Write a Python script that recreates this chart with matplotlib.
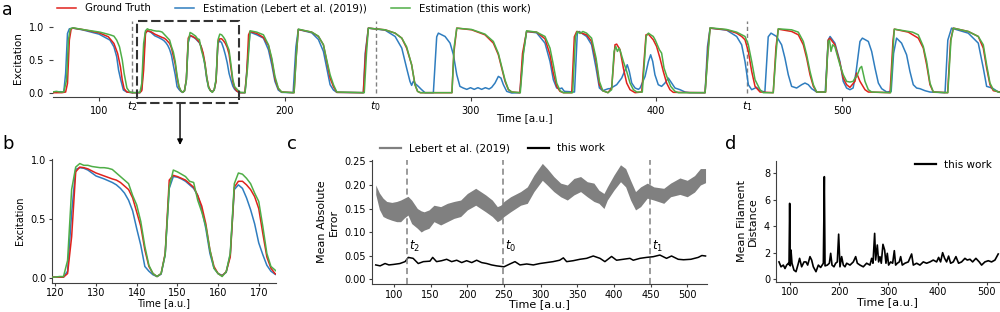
import numpy as np
import matplotlib
matplotlib.use('Agg')
import matplotlib.pyplot as plt
from matplotlib.patches import Rectangle
from matplotlib.lines import Line2D
import matplotlib.transforms as mtransforms

plt.rcParams['font.family'] = ['DejaVu Sans']
plt.rcParams['axes.spines.top'] = False
plt.rcParams['axes.spines.right'] = False
plt.rcParams['axes.edgecolor'] = '0.25'
plt.rcParams['xtick.color'] = '0.25'
plt.rcParams['ytick.color'] = '0.25'
plt.rcParams['xtick.labelcolor'] = 'black'
plt.rcParams['ytick.labelcolor'] = 'black'

# ---- panel a / b : excitation traces (b is the zoom of a) ----
t_gt = [75, 80, 82, 83, 84, 85, 86, 91, 100, 105, 108, 110, 111.5, 112.5, 113.5, 115, 118,
        120, 121, 122, 123, 124, 125, 126, 127, 128, 130, 132, 134, 135, 136, 137, 138, 139, 140,
        141, 142, 143, 144, 145, 146, 147, 148, 149, 150, 151, 152, 153, 154, 155, 156, 157, 158,
        159, 160, 161, 162, 163, 164, 165, 166, 167, 168, 169, 170, 171, 172, 173, 174, 175,
        176, 178.5, 179.5, 180.5, 181.3, 185, 188.5, 191.2, 193, 194.7, 196.5, 198.3,
        205, 206, 207.3, 214.5, 218.1, 220.8, 222.6, 224.4, 226.2, 228,
        242.3, 243.5, 245, 254, 259.4, 263, 265.6, 268.3, 270.1, 271.5, 273,
        290, 291, 292.6, 300.6, 307.8, 312.3, 315, 316.8, 318.6, 320.4, 322.2,
        326.6, 328, 330.2, 335.6, 340.1, 342.8, 344.6, 346.4, 348.2, 350,
        354.5, 355.9, 357.2, 362.5, 365.2, 367.6, 369.4, 371.2, 374,
        376, 377.8, 378.7, 380.5, 382.3, 384.1, 385.9, 388.6,
        392.2, 394.5, 395.8, 398.4, 400.2, 402, 403.8, 405.6, 407.4, 409.2,
        426.3, 428, 429, 437.9, 443.3, 446, 447.8, 449.6, 451.4, 453.2, 455.9,
        463, 464.5, 465.7, 472.9, 476.5, 479.2, 481, 482.8, 484.6, 486.4,
        491.2, 492.6, 493.5, 496.2, 498.9, 500.7, 502.5, 504.3, 507, 507.9, 509.7, 512.4, 514.2,
        525.9, 527.5, 528.2, 535.7, 541.1, 543.8, 545.6, 547.4, 549.2,
        556.9, 558.5, 560, 568, 573.4, 576.1, 577.9, 579.7, 581.5, 585]
y_gt = [0.01, 0.01, 0.02, 0.15, 0.8, 0.97, 0.98, 0.96, 0.91, 0.85, 0.75, 0.6, 0.4, 0.2, 0.07, 0.02, 0.01,
        0.01, 0.01, 0.01, 0.04, 0.35, 0.9, 0.94, 0.935, 0.925, 0.89, 0.865, 0.84, 0.83, 0.81, 0.78, 0.75, 0.68, 0.56,
        0.44, 0.24, 0.10, 0.04, 0.015, 0.04, 0.21, 0.83, 0.87, 0.86, 0.845, 0.83, 0.80, 0.77, 0.70, 0.61, 0.46, 0.24,
        0.10, 0.04, 0.02, 0.056, 0.18, 0.77, 0.82, 0.82, 0.79, 0.75, 0.69, 0.59, 0.38, 0.18, 0.085, 0.04, 0.02,
        0.01, 0.01, 0.3, 0.88, 0.93, 0.90, 0.84, 0.72, 0.50, 0.22, 0.07, 0.02,
        0.01, 0.5, 0.96, 0.92, 0.855, 0.73, 0.48, 0.23, 0.10, 0.015,
        0.01, 0.6, 0.98, 0.955, 0.905, 0.83, 0.68, 0.43, 0.13, 0.03, 0.01,
        0.01, 0.6, 0.98, 0.955, 0.88, 0.755, 0.58, 0.38, 0.18, 0.055, 0.02,
        0.01, 0.6, 0.93, 0.92, 0.82, 0.58, 0.30, 0.105, 0.03, 0.01,
        0.01, 0.85, 0.93, 0.88, 0.78, 0.48, 0.13, 0.04, 0.01,
        0.08, 0.73, 0.74, 0.655, 0.38, 0.155, 0.055, 0.01,
        0.02, 0.88, 0.89, 0.805, 0.705, 0.53, 0.33, 0.155, 0.055, 0.015,
        0.01, 0.7, 0.98, 0.955, 0.905, 0.855, 0.805, 0.63, 0.33, 0.105, 0.02,
        0.01, 0.7, 0.965, 0.93, 0.88, 0.73, 0.53, 0.28, 0.105, 0.02,
        0.02, 0.8, 0.83, 0.73, 0.455, 0.23, 0.13, 0.09, 0.18, 0.305, 0.18, 0.055, 0.02,
        0.01, 0.8, 0.965, 0.92, 0.83, 0.68, 0.43, 0.13, 0.02,
        0.01, 0.8, 0.98, 0.93, 0.855, 0.68, 0.38, 0.13, 0.04, 0.02]

t_lebert = [75, 77, 79, 81, 82, 83, 84, 86, 91, 100, 105.9, 108, 109.5, 110.5, 111.7, 113.1, 114.9, 118,
            120, 121, 122, 123, 124, 125, 126, 127, 128, 130, 132, 134, 135, 136, 137, 138, 139, 140,
            141, 142, 143, 144, 145, 146, 147, 148, 149, 150, 151, 152, 153, 154, 155, 156, 157, 158,
            159, 160, 161, 162, 163, 164, 165, 166, 167, 168, 169, 170, 171, 172, 173, 174, 175,
            176, 178.6, 180, 181.3, 184.9, 188.5, 191.2, 193, 194.7, 196.5, 198.3,
            204.5, 206, 207.3, 214.5, 218.1, 220.8, 222.6, 224.4, 226.2, 228,
            242.3, 243.3, 245, 254, 259.4, 263, 265.6, 267.4, 268.3, 269.2, 270.5, 271.9, 273.5, 275.5,
            280, 281.8, 282.7, 286.3, 289, 290.8, 292.6, 294.3, 296.1, 298, 300, 302, 304, 306, 308, 310,
            311.4, 313.2, 315, 316.4, 317.7, 319.5, 322.2,
            326.6, 328.4, 330.2, 335.6, 340.1, 342.8, 344.6, 346.4, 348.2, 349.2, 350.5,
            356, 357.5, 358.5, 362.5, 365.2, 367.6, 369.4, 371.2, 374.2,
            375.1, 378.7, 381.4, 383.7, 384.4, 385.5, 386.8, 388.6, 390.4,
            391.3, 394, 395.8, 397, 398.1, 399.3, 401.1, 402.9, 404.7, 406.5, 408.3, 410.1, 412.8, 415.5, 418,
            426.3, 427.6, 429, 437.9, 443.3, 446, 447.8, 449.6, 451.4, 452.5, 454, 455.9,
            458.5, 460.3, 461.8, 464.8, 467.5, 469.3, 471.1, 472.9, 475.6, 478.3, 480.1, 481.9, 483.7, 486.4,
            491, 492.6, 493.6, 496.2, 498.9, 500.7, 502.5, 504.3, 506,
            507.5, 509.7, 511, 514.2, 516, 517.8, 519.6, 521.4, 524.1,
            526.5, 527.8, 529.4, 532.1, 534.8, 536.6, 538.4, 540.2, 542, 544.7, 547.4,
            555.5, 557, 559, 568, 573.4, 576.1, 577.9, 579.7, 581.5, 584.2, 585]
y_lebert = [0.02, 0.015, 0.025, 0.02, 0.3, 0.9, 0.97, 0.98, 0.955, 0.89, 0.80, 0.7, 0.55, 0.35, 0.2, 0.05, 0.02, 0.01,
            0.01, 0.01, 0.01, 0.06, 0.55, 0.92, 0.935, 0.93, 0.915, 0.865, 0.84, 0.81, 0.79, 0.76, 0.72, 0.66, 0.57, 0.42,
            0.28, 0.10, 0.06, 0.03, 0.015, 0.035, 0.2, 0.76, 0.86, 0.855, 0.84, 0.82, 0.79, 0.76, 0.70, 0.58, 0.42, 0.21,
            0.085, 0.04, 0.025, 0.05, 0.2, 0.75, 0.79, 0.76, 0.68, 0.58, 0.46, 0.30, 0.20, 0.11, 0.06, 0.035, 0.02,
            0.01, 0.01, 0.5, 0.92, 0.88, 0.83, 0.655, 0.43, 0.18, 0.05, 0.015,
            0.01, 0.7, 0.96, 0.91, 0.81, 0.63, 0.38, 0.13, 0.05, 0.015,
            0.01, 0.6, 0.98, 0.95, 0.855, 0.68, 0.38, 0.18, 0.12, 0.18, 0.14, 0.105, 0.06, 0.01,
            0.01, 0.85, 0.905, 0.855, 0.755, 0.58, 0.28, 0.105, 0.08, 0.06, 0.085, 0.06, 0.085, 0.06, 0.085, 0.065,
            0.09, 0.155, 0.255, 0.23, 0.13, 0.03, 0.005,
            0.01, 0.6, 0.93, 0.91, 0.755, 0.48, 0.205, 0.08, 0.07, 0.08, 0.03,
            0.02, 0.9, 0.93, 0.855, 0.73, 0.38, 0.08, 0.04, 0.07,
            0.07, 0.13, 0.23, 0.38, 0.43, 0.33, 0.155, 0.08, 0.06,
            0.08, 0.255, 0.48, 0.58, 0.48, 0.28, 0.13, 0.105, 0.155, 0.23, 0.155, 0.08, 0.055, 0.02, 0.01,
            0.01, 0.7, 0.98, 0.95, 0.855, 0.73, 0.48, 0.13, 0.055, 0.07, 0.09, 0.04,
            0.02, 0.85, 0.905, 0.855, 0.73, 0.53, 0.28, 0.105, 0.08, 0.13, 0.155, 0.13, 0.07, 0.02,
            0.02, 0.8, 0.855, 0.755, 0.48, 0.18, 0.08, 0.055, 0.08,
            0.3, 0.78, 0.83, 0.78, 0.63, 0.38, 0.155, 0.07, 0.02,
            0.03, 0.6, 0.83, 0.755, 0.58, 0.33, 0.13, 0.08, 0.07, 0.04, 0.02,
            0.01, 0.8, 0.98, 0.905, 0.755, 0.38, 0.105, 0.09, 0.07, 0.02, 0.02]

t_ours = [75, 77, 79, 81, 82.5, 83.5, 84.5, 86, 91, 100.5, 105.9, 108, 109.5, 111, 112.5, 113.5, 115, 116.5, 119,
          120, 121, 122, 123, 124, 125, 126, 127, 128, 129, 130, 131, 132, 133, 134, 135, 136, 137, 138, 139, 140,
          141, 142, 143, 144, 145, 146, 147, 148, 149, 150, 151, 152, 153, 154, 155, 156, 157, 158,
          159, 160, 161, 162, 163, 164, 165, 166, 167, 168, 169, 170, 171, 172, 173, 174, 175,
          176, 178.6, 180, 181.3, 184.9, 188.5, 191.2, 193, 194.7, 196.5, 198.3,
          205, 206.3, 207.3, 214.5, 218.1, 220.8, 222.6, 224.4, 226.2, 228,
          242.8, 244, 245, 254, 259.4, 263, 265.6, 268.3, 270.1, 271.5, 273,
          290, 291.2, 292.6, 300.6, 307.8, 312.3, 315, 316.8, 318.6, 320.4, 322.2,
          326.8, 328.5, 330.2, 335.6, 340.1, 342.8, 344.6, 346.4, 348.2, 350,
          355, 356.5, 357.5, 359, 360.5, 362.5, 365.2, 367.6, 369.4, 371.2, 374,
          376, 377.3, 378.2, 379.1, 380.1, 381, 382.3, 384.1, 385.9, 387.7, 389.5,
          392.5, 394.6, 395.8, 397, 398.4, 399.5, 400.2, 401, 401.7, 402.9, 404.2, 406, 407.8, 410.1, 412,
          426.3, 428.2, 429, 437.9, 443.3, 446, 447.8, 449.6, 451.4, 453.2, 455.9, 457.6,
          463, 464.5, 465.7, 472.9, 476.5, 479.2, 481, 482.8, 484.6, 486.4,
          491.2, 492.6, 493.3, 494.1, 495, 496.2, 498.9, 500.7, 502.5, 504.3, 506, 507, 507.9,
          509.7, 510.6, 512.4, 514.2, 516,
          526.2, 527.7, 528.2, 535.7, 538, 541.1, 543.8, 545.6, 547.4, 549.2,
          557, 558.7, 560, 568, 573.4, 576.1, 577.9, 579.7, 581.5, 584.2, 585]
y_ours = [0.02, 0.03, 0.02, 0.02, 0.2, 0.8, 0.97, 0.985, 0.96, 0.92, 0.88, 0.86, 0.80, 0.7, 0.5, 0.3, 0.08, 0.02, 0.01,
          0.01, 0.015, 0.015, 0.15, 0.75, 0.94, 0.97, 0.955, 0.955, 0.945, 0.94, 0.935, 0.935, 0.93, 0.92, 0.89,
          0.86, 0.83, 0.80, 0.70, 0.62,
          0.48, 0.27, 0.11, 0.04, 0.015, 0.04, 0.2, 0.77, 0.915, 0.90, 0.88, 0.86, 0.82, 0.81, 0.66, 0.56, 0.44, 0.24,
          0.085, 0.04, 0.015, 0.055, 0.21, 0.80, 0.89, 0.88, 0.845, 0.80, 0.72, 0.65, 0.44, 0.21, 0.10, 0.07, 0.04,
          0.015, 0.01, 0.4, 0.94, 0.92, 0.88, 0.73, 0.53, 0.255, 0.08, 0.02,
          0.01, 0.6, 0.965, 0.92, 0.86, 0.73, 0.5, 0.28, 0.13, 0.02,
          0.01, 0.6, 0.98, 0.955, 0.905, 0.83, 0.7, 0.43, 0.13, 0.03, 0.01,
          0.01, 0.7, 0.98, 0.96, 0.89, 0.78, 0.6, 0.4, 0.2, 0.06, 0.02,
          0.01, 0.6, 0.94, 0.92, 0.855, 0.68, 0.43, 0.155, 0.04, 0.01,
          0.01, 0.85, 0.93, 0.9, 0.93, 0.905, 0.83, 0.53, 0.18, 0.04, 0.01,
          0.055, 0.63, 0.705, 0.63, 0.68, 0.605, 0.48, 0.33, 0.155, 0.055, 0.02,
          0.02, 0.86, 0.905, 0.88, 0.855, 0.8, 0.755, 0.7, 0.655, 0.605, 0.38, 0.23, 0.105, 0.03, 0.01,
          0.01, 0.7, 0.985, 0.96, 0.92, 0.88, 0.855, 0.73, 0.48, 0.205, 0.055, 0.01,
          0.01, 0.6, 0.97, 0.955, 0.92, 0.78, 0.58, 0.33, 0.13, 0.02,
          0.02, 0.78, 0.8, 0.63, 0.73, 0.7, 0.43, 0.28, 0.18, 0.17, 0.18, 0.23, 0.25,
          0.38, 0.405, 0.18, 0.055, 0.02,
          0.01, 0.75, 0.965, 0.93, 0.92, 0.88, 0.705, 0.48, 0.155, 0.02,
          0.01, 0.8, 0.98, 0.93, 0.855, 0.73, 0.43, 0.155, 0.055, 0.02, 0.015]

t_marks = [118, 249, 449]
t_mark_labels = ['$t_2$', '$t_0$', '$t_1$']

# ---- panel c : mean absolute error ----
mae_t = [75, 80, 85, 90, 97, 103.6, 109, 114, 119, 124, 131.8, 137, 141, 147.7, 154.5, 163.6, 172.7,
         181.8, 190.9, 200, 211.4, 218.2, 225, 234, 240.9, 245.5, 250, 259, 272.7, 281.8, 290.9,
         302.3, 309, 318, 327.3, 336.4, 345.5, 354.5, 363.6, 372.7, 379.5, 386.4, 391, 400, 409,
         416, 422.7, 429.5, 436.4, 445.5, 454.5, 468, 477.3, 490, 500, 510, 518, 525]
mae_lebert_lo = [0.18, 0.148, 0.133, 0.129, 0.125, 0.122, 0.122, 0.13, 0.136, 0.118, 0.108, 0.10, 0.104,
                 0.108, 0.122, 0.115, 0.122, 0.129, 0.133, 0.147, 0.157, 0.15, 0.143, 0.133, 0.122, 0.126,
                 0.133, 0.143, 0.157, 0.161, 0.186, 0.21, 0.20, 0.186, 0.175, 0.168, 0.179, 0.186, 0.175,
                 0.165, 0.161, 0.15, 0.168, 0.189, 0.207, 0.196, 0.168, 0.147, 0.154, 0.172, 0.168, 0.161,
                 0.175, 0.18, 0.175, 0.185, 0.20, 0.205]
mae_lebert_hi = [0.20, 0.183, 0.172, 0.165, 0.163, 0.165, 0.168, 0.172, 0.176, 0.168, 0.15, 0.145, 0.143,
                 0.147, 0.157, 0.154, 0.161, 0.165, 0.168, 0.182, 0.193, 0.186, 0.179, 0.168, 0.154, 0.157,
                 0.165, 0.175, 0.186, 0.196, 0.221, 0.246, 0.235, 0.218, 0.204, 0.20, 0.214, 0.218, 0.207,
                 0.204, 0.189, 0.182, 0.196, 0.221, 0.243, 0.235, 0.21, 0.186, 0.196, 0.204, 0.196, 0.193,
                 0.204, 0.215, 0.21, 0.22, 0.235, 0.235]
mae_ours_t = [75, 81, 87.7, 93, 99, 108, 115, 119.5, 126, 133, 140, 149, 152.7, 158, 165, 171.8, 178.6,
              185.5, 192.3, 199, 206, 212.7, 219.5, 226.4, 233, 240, 250, 258, 265, 271.8, 281, 290,
              299, 308, 317, 326, 331, 335.5, 344.5, 353.6, 362.7, 371.8, 381, 387.7, 396.8, 403.6,
              412.7, 421.8, 426.4, 435.5, 444.5, 453.6, 462.7, 471.8, 478.6, 487.7, 495, 505, 515, 520, 525]
mae_ours = [0.030, 0.028, 0.033, 0.030, 0.031, 0.033, 0.037, 0.046, 0.044, 0.033, 0.037, 0.038, 0.046,
            0.037, 0.039, 0.042, 0.037, 0.040, 0.035, 0.039, 0.035, 0.040, 0.035, 0.033, 0.030, 0.028,
            0.026, 0.032, 0.037, 0.030, 0.032, 0.030, 0.033, 0.035, 0.037, 0.040, 0.045, 0.037, 0.039,
            0.042, 0.044, 0.049, 0.044, 0.037, 0.048, 0.040, 0.042, 0.044, 0.040, 0.044, 0.046, 0.0475,
            0.051, 0.044, 0.049, 0.042, 0.041, 0.042, 0.046, 0.050, 0.049]

# ---- panel d : mean filament distance ----
fil_t = [77.6, 81.7, 86.4, 89.8, 93.2, 96.6, 98.0, 99.3, 100.5, 102, 104, 108, 112.2, 117, 119.5, 123.7,
         128.5, 132.5, 135.9, 140.6, 144, 147.4, 152.8, 157.6, 162.3, 167.8, 169.8, 171.2, 175.9, 180,
         182.7, 185.4, 189.4, 192.8, 196.2, 198.9, 201.6, 205, 208.4, 211.8, 215.2, 222, 228.7, 233.5,
         236.9, 242.3, 249, 255.8, 262.6, 266, 268.7, 272.1, 274.1, 277.5, 280.2, 282.9, 285.6, 289,
         292.4, 295.1, 297.8, 300.5, 304.6, 308.7, 312.1, 314.8, 318.2, 322.2, 325, 328.3, 333.7, 340.5,
         347.3, 350.7, 357.5, 364.2, 371, 377.8, 384.6, 391.3, 398.1, 402.2, 406.2, 410.3, 414.4, 418.4,
         422.5, 426.6, 432, 437.4, 442.8, 448.9, 455.7, 460.4, 465.9, 471.3, 478, 484.8, 489.6, 496.3,
         503.1, 509.9, 516.7, 523.4]
fil_ours = [1.3, 0.93, 1.06, 0.8, 1.06, 1.2, 1.1, 5.73, 1.0, 2.2, 1.2, 0.68, 0.56, 1.2, 1.57, 0.93,
            1.3, 1.3, 1.06, 1.7, 1.44, 0.93, 0.56, 1.06, 0.88, 1.2, 7.75, 1.0, 1.06, 1.2,
            1.95, 1.06, 0.93, 1.2, 1.3, 3.4, 0.93, 1.7, 1.06, 0.93, 1.2, 1.06, 1.3, 1.7,
            1.2, 1.06, 0.93, 1.2, 1.06, 1.57, 1.2, 3.46, 1.44, 2.58, 1.3, 1.7, 1.2, 2.63,
            2.2, 1.2, 1.95, 1.06, 1.3, 1.2, 2.15, 1.06, 1.2, 1.3, 1.7, 1.06, 1.2, 1.3,
            1.9, 1.06, 1.2, 1.06, 1.3, 1.2, 1.3, 1.44, 1.3, 1.64, 1.3, 2.0, 1.57, 1.3,
            1.74, 1.2, 1.3, 1.7, 1.2, 1.3, 1.57, 1.44, 1.5, 1.3, 1.57, 1.3, 1.06, 1.3,
            1.39, 1.3, 1.44, 1.9]

c_gt = '#e0221c'
c_leb = '#2f7dbf'
c_ours = '#4fae47'

fig = plt.figure(figsize=(10, 3.12), dpi=100)

# ---------------- panel a ----------------
ax_a = fig.add_axes([0.053, 0.688, 0.947, 0.254])
l_gt, = ax_a.plot(t_gt, y_gt, color=c_gt, lw=1.1, zorder=3)
l_leb, = ax_a.plot(t_lebert, y_lebert, color=c_leb, lw=1.1, zorder=2)
l_ours, = ax_a.plot(t_ours, y_ours, color=c_ours, lw=1.1, zorder=4)
ax_a.set_xlim(75.2, 585.1)
ax_a.set_ylim(-0.06, 1.131)
ax_a.spines['left'].set_visible(False)
ax_a.set_yticks([0, 0.5, 1.0])
ax_a.set_yticklabels(['0.0', '0.5', '1.0'])
ax_a.set_xticks([100, 200, 300, 400, 500])
ax_a.tick_params(labelsize=7, length=3)
ax_a.set_ylabel('Excitation', fontsize=7.5)
ax_a.set_xlabel('Time [a.u.]', fontsize=7.5)
ax_a.xaxis.set_label_coords(0.498, -0.2)
ax_a.vlines(t_marks, 0, 1.08, colors='0.5', linestyles=(0, (3, 2)), lw=1.0, zorder=1)
trans_a = mtransforms.blended_transform_factory(ax_a.transData, ax_a.transAxes)
for tm, lab in zip(t_marks, t_mark_labels):
    ax_a.text(tm, -0.11, lab, transform=trans_a, ha='center', va='center', fontsize=8)
ax_a.add_patch(Rectangle((120.5, -0.146), 54.9, 1.236, fill=False, ec='0.2',
                         lw=1.5, ls=(0, (4.5, 1.8)), clip_on=False, zorder=5))
ax_a.annotate('', xy=(143.6, -0.776), xytext=(143.6, -0.146),
              arrowprops=dict(arrowstyle='-|>', color='k', lw=1.0, shrinkA=0, shrinkB=0,
                              mutation_scale=8),
              annotation_clip=False)
fig.legend([l_gt, l_leb, l_ours],
           ['Ground Truth', 'Estimation (Lebert et al. (2019))', 'Estimation (this work)'],
           loc='center left', bbox_to_anchor=(0.057, 0.974), ncol=3, frameon=False,
           fontsize=7.3, handlelength=1.9, handletextpad=0.85, columnspacing=2.4,
           borderaxespad=0, borderpad=0)

# ---------------- panel b ----------------
ax_b = fig.add_axes([0.0517, 0.094, 0.2241, 0.397])
ax_b.plot(t_gt, y_gt, color=c_gt, lw=1.1, zorder=3)
ax_b.plot(t_lebert, y_lebert, color=c_leb, lw=1.1, zorder=2)
ax_b.plot(t_ours, y_ours, color=c_ours, lw=1.1, zorder=4)
ax_b.set_xlim(119.1, 174.2)
ax_b.set_ylim(-0.037, 1.01)
ax_b.set_xticks([120, 130, 140, 150, 160, 170])
ax_b.set_yticks([0, 0.5, 1.0])
ax_b.set_yticklabels(['0.0', '0.5', '1.0'])
ax_b.tick_params(labelsize=7, length=2.5, pad=1.5)
ax_b.set_ylabel('Excitation', fontsize=7)
ax_b.set_xlabel('Time [a.u.]', fontsize=7, labelpad=0)

# ---------------- panel c ----------------
ax_c = fig.add_axes([0.3717, 0.0897, 0.3353, 0.3975])
ax_c.fill_between(mae_t, mae_lebert_lo, mae_lebert_hi, color='#808080', lw=0, zorder=2)
ax_c.plot(mae_ours_t, mae_ours, color='black', lw=1.1, zorder=3)
ax_c.set_xlim(69.5, 527)
ax_c.set_ylim(-0.0106, 0.2532)
ax_c.set_xticks(np.arange(100, 501, 50))
ax_c.set_yticks([0, 0.05, 0.10, 0.15, 0.20, 0.25])
ax_c.set_yticklabels(['0.00', '0.05', '0.10', '0.15', '0.20', '0.25'])
ax_c.tick_params(labelsize=7, length=2.5, pad=1.5)
ax_c.set_ylabel('Mean Absolute\nError', fontsize=8)
ax_c.set_xlabel('Time [a.u.]', fontsize=8, labelpad=0)
ax_c.vlines(t_marks, -0.0106, 0.2532, colors='0.5', linestyles=(0, (4, 2.5)), lw=1.1, zorder=4)
for tm, lab in zip(t_marks, t_mark_labels):
    ax_c.text(tm + 3, 0.069, lab, ha='left', va='center', fontsize=8.5)
h_leb = Line2D([], [], color='#808080', lw=1.6)
h_ours = Line2D([], [], color='black', lw=1.6)
fig.legend([h_leb, h_ours], ['Lebert et al. (2019)', 'this work'],
           loc='center left', bbox_to_anchor=(0.38, 0.525), ncol=2, frameon=False,
           fontsize=7.5, handlelength=2.0, handletextpad=0.75, columnspacing=1.8,
           borderaxespad=0, borderpad=0)

# ---------------- panel d ----------------
ax_d = fig.add_axes([0.7757, 0.097, 0.2243, 0.388])
ax_d.plot(fil_t, fil_ours, color='black', lw=1.2)
ax_d.set_xlim(70.9, 527)
ax_d.set_ylim(-0.2, 8.96)
ax_d.set_xticks([100, 200, 300, 400, 500])
ax_d.set_yticks([0, 2, 4, 6, 8])
ax_d.tick_params(labelsize=7, length=2.5, pad=1.5)
ax_d.set_ylabel('Mean Filament\nDistance', fontsize=8)
ax_d.set_xlabel('Time [a.u.]', fontsize=8, labelpad=0)
fig.legend([Line2D([], [], color='black', lw=1.6)], ['this work'],
           loc='center left', bbox_to_anchor=(0.915, 0.471), frameon=False,
           fontsize=7.5, handlelength=2.0, handletextpad=0.75,
           borderaxespad=0, borderpad=0)

# panel letters
fig.text(0.002, 0.951, 'a', fontsize=12.5, va='baseline', ha='left')
fig.text(0.002, 0.524, 'b', fontsize=13, va='baseline', ha='left')
fig.text(0.287, 0.524, 'c', fontsize=13, va='baseline', ha='left')
fig.text(0.725, 0.524, 'd', fontsize=13, va='baseline', ha='left')

fig.savefig('out.png', dpi=100)
